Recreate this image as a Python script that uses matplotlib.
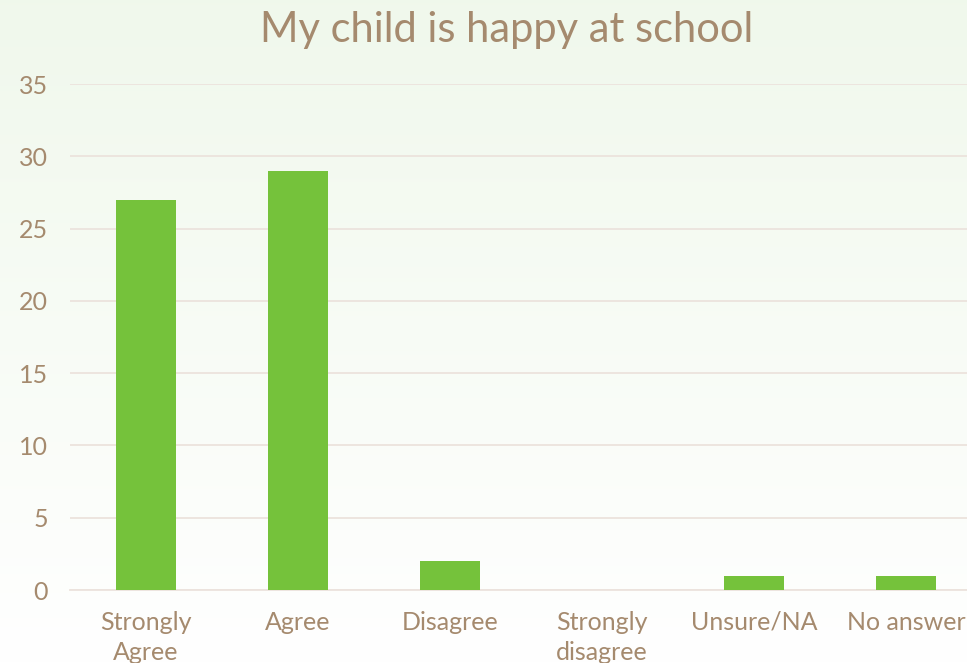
import numpy as np
import matplotlib
matplotlib.use("Agg")
import matplotlib.pyplot as plt

categories = ["Strongly\nAgree", "Agree", "Disagree", "Strongly\ndisagree", "Unsure/NA", "No answer"]
counts = [27, 29, 2, 0, 1, 1]
y_ticks = [0, 5, 10, 15, 20, 25, 30, 35]

text_color = "#a58a6e"
bar_color = "#75c23b"
grid_color = "#ece3dd"

plt.rcParams['font.family'] = ['Lato', 'DejaVu Sans']

fig = plt.figure(figsize=(9.67, 6.63), dpi=100)

# background gradient: pale green at top fading to white
bg = fig.add_axes([0, 0, 1, 1], zorder=0)
grad = np.linspace(0, 1, 256).reshape(-1, 1)
top = np.array([0.941, 0.973, 0.925])
bottom = np.array([1.0, 1.0, 1.0])
img = top * (1 - grad[..., None]) + bottom * grad[..., None]
img = np.repeat(img, 2, axis=1)
bg.imshow(img, aspect='auto', extent=[0, 1, 0, 1])
bg.axis('off')

ax = fig.add_axes([70 / 967, 73 / 663, 912 / 967, 506 / 663], zorder=1)
ax.patch.set_alpha(0)
x = np.arange(len(categories))
ax.bar(x, counts, width=0.4, color=bar_color, zorder=3)

ax.set_xlim(-0.5, len(categories) - 0.5)
ax.set_ylim(0, 35)
ax.set_yticks(y_ticks)
ax.set_xticks(x)
ax.set_xticklabels(categories, linespacing=1.4)
ax.grid(axis='y', color=grid_color, linewidth=1.3, zorder=0)
ax.tick_params(axis='both', length=0, labelsize=18, colors=text_color)
ax.tick_params(axis='x', pad=15)
ax.tick_params(axis='y', pad=16)
for side in ['top', 'right', 'left']:
    ax.spines[side].set_visible(False)
ax.spines['bottom'].set_color(grid_color)
ax.spines['bottom'].set_linewidth(1.3)

fig.text(507 / 967, 1 - 30 / 663, "My child is happy at school", ha='center', va='center',
         fontsize=30, color=text_color)

fig.savefig("out.png", dpi=100)
